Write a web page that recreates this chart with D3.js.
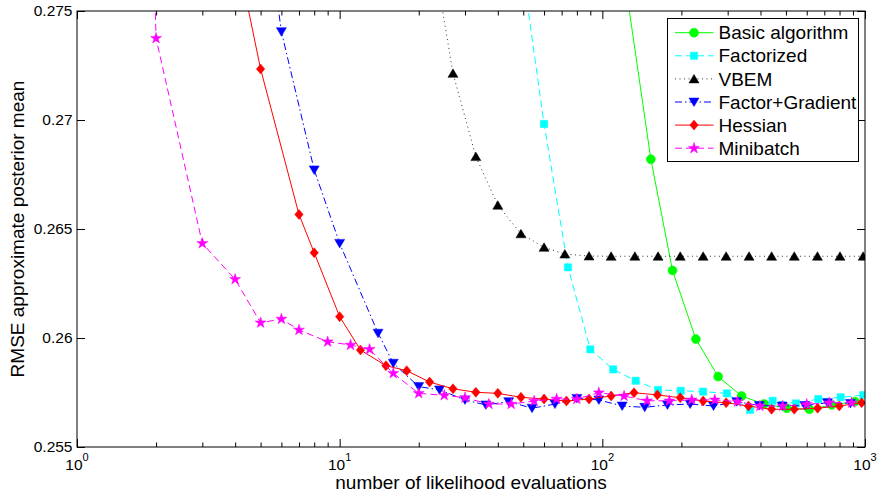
<!DOCTYPE html>
<html>
<head>
<meta charset="utf-8">
<script src="https://cdn.jsdelivr.net/npm/d3@7"></script>
<style>
html,body{margin:0;padding:0;background:#fff;}
svg{display:block;font-family:"Liberation Sans",Arial,Helvetica,sans-serif;}
</style>
</head>
<body>
<svg id="chart" width="878" height="493"></svg>
<script>
// ---------- data ----------
const seriesNames = ["Basic algorithm","Factorized","VBEM","Factor+Gradient","Hessian","Minibatch"];

const basicX = [125,153,185,227,276,339,413,504,614,747,916];
const basicY = [0.2755,0.2682,0.2631,0.25995,0.25823,0.25734,0.25697,0.25678,0.25673,0.25693,0.25708];

const factX = [49,60,74,90,110,134,163,199,242,298,365,445,546,664,808,985];
const factY = [0.2774,0.26982,0.26324,0.25948,0.25856,0.25804,0.25762,0.25758,0.25754,0.25746,0.2567,0.25712,0.2570,0.2572,0.25728,0.25738];

const vbemX = [22,27,33,40,49,60,72,89,108,133,163,198,242,296,362,441,538,659,803,984];
const vbemY = [0.2786,0.27214,0.26832,0.26609,0.26478,0.26416,0.26385,0.26376,0.26375,0.26375,0.26375,0.26375,0.26375,0.26375,0.26375,0.26375,0.26375,0.26375,0.26375,0.26375];

const fgX = [4,6,8,10,14,16,20,24,30,36,44,54,66,80,97,119,145,177,216,265,325,396,484,590,720,880];
const fgY = [0.29,0.27405,0.26771,0.26434,0.26022,0.25884,0.25777,0.25762,0.25716,0.25693,0.25708,0.25678,0.25697,0.25723,0.25716,0.25688,0.25682,0.25693,0.25697,0.25688,0.25708,0.2569,0.25688,0.2569,0.25703,0.257];

const hessX = [4,5,7,8,10,12,15,18,22,27,33,40,49,60,73,89,108,132,162,198,242,296,360,441,538,660,798,971];
const hessY = [0.278,0.27234,0.26567,0.26391,0.26098,0.25945,0.25873,0.2585,0.25798,0.25767,0.25751,0.25746,0.25728,0.2572,0.25711,0.2572,0.25734,0.25749,0.25739,0.25726,0.25711,0.25703,0.25688,0.25673,0.25673,0.25678,0.25688,0.25703];

const miniX = [1,2,3,4,5,6,7,9,11,13,16,20,25,30,37,45,55,67,80,97,121,148,180,219,268,327,398,486,600,731,890];
const miniY = [0.40,0.27375,0.26434,0.26269,0.2607,0.26087,0.26037,0.25983,0.25968,0.25948,0.25838,0.25746,0.25737,0.25726,0.25697,0.25697,0.25711,0.2572,0.2572,0.25749,0.25734,0.25712,0.25712,0.25716,0.25716,0.25708,0.25688,0.25688,0.25696,0.25703,0.25703];

const xMajorTicks = [1,10,100,1000];
const xTickExponents = ["0","1","2","3"];
const yTicks = [0.255,0.26,0.265,0.27,0.275];
const yTickLabels = ["0.255","0.26","0.265","0.27","0.275"];
const xTitle = "number of likelihood evaluations";
const yTitle = "RMSE approximate posterior mean";

// ---------- layout ----------
const L = 77, R = 865, T = 11, B = 447;
const FONT = 15.5, BIG = 19;
const svg = d3.select("#chart");
const x = d3.scaleLog().domain([1,1000]).range([L,R]);
const y = d3.scaleLinear().domain([0.255,0.275]).range([B,T]);

const styles = [
  {color:"#00ff00", dash:null, marker:"circle", w:1},
  {color:"#00ffff", dash:"7,4", marker:"square", w:1},
  {color:"#000000", dash:"1,3.5", marker:"triUp", w:0.8},
  {color:"#0000ff", dash:"7,3,1.5,3", marker:"triDown", w:1},
  {color:"#ff0000", dash:null, marker:"diamond", w:1},
  {color:"#ff00ff", dash:"7,4", marker:"star", w:1}
];
const data = [[basicX,basicY],[factX,factY],[vbemX,vbemY],[fgX,fgY],[hessX,hessY],[miniX,miniY]];

function markerPath(type){
  switch(type){
    case "circle": return d3.symbol(d3.symbolCircle, Math.PI*4.5*4.5)();
    case "square": return "M-3.6,-3.6H3.6V3.6H-3.6Z";
    case "triUp": return "M0,-4.5L5,4L-5,4Z";
    case "triDown": return "M0,4.5L5,-4L-5,-4Z";
    case "diamond": return "M0,-5L4.2,0L0,5L-4.2,0Z";
    case "star": return d3.symbol(d3.symbolStar, 5.8*5.8/0.8908130915292852)();
  }
}

// clip
svg.append("defs").append("clipPath").attr("id","plotclip")
  .append("rect").attr("x",L).attr("y",T).attr("width",R-L).attr("height",B-T);

svg.append("rect").attr("x",L).attr("y",T).attr("width",R-L).attr("height",B-T).attr("fill","#fff");

// ---------- axes ----------
const minorTicks = [];
for (let d=1; d<1000; d*=10) for (let k=2;k<=9;k++) minorTicks.push(d*k);

const axisG = svg.append("g");
const xb = axisG.append("g").attr("transform",`translate(0,${B})`)
  .call(d3.axisBottom(x).tickValues(xMajorTicks).tickSizeInner(-8).tickSizeOuter(0).tickFormat(""));
xb.select(".domain").remove();
const xbm = axisG.append("g").attr("transform",`translate(0,${B})`)
  .call(d3.axisBottom(x).tickValues(minorTicks).tickSizeInner(-4.5).tickSizeOuter(0).tickFormat(""));
xbm.select(".domain").remove();
const xt = axisG.append("g").attr("transform",`translate(0,${T})`)
  .call(d3.axisTop(x).tickValues(xMajorTicks).tickSizeInner(-8).tickSizeOuter(0).tickFormat(""));
xt.select(".domain").remove();
const xtm = axisG.append("g").attr("transform",`translate(0,${T})`)
  .call(d3.axisTop(x).tickValues(minorTicks).tickSizeInner(-4.5).tickSizeOuter(0).tickFormat(""));
xtm.select(".domain").remove();
const yl = axisG.append("g").attr("transform",`translate(${L},0)`)
  .call(d3.axisLeft(y).tickValues(yTicks).tickSizeInner(-8).tickSizeOuter(0).tickPadding(4.5)
    .tickFormat((d,i)=>yTickLabels[i]));
yl.select(".domain").remove();
const yr = axisG.append("g").attr("transform",`translate(${R},0)`)
  .call(d3.axisRight(y).tickValues(yTicks).tickSizeInner(-8).tickSizeOuter(0).tickFormat(""));
yr.select(".domain").remove();

axisG.selectAll(".tick line").attr("stroke","#000").attr("stroke-width",1);
yl.selectAll("text").attr("font-size",FONT).attr("fill","#000")
  .attr("font-family","'Liberation Sans',Arial,sans-serif");

// x tick labels with superscripts
const xl = svg.append("g");
xMajorTicks.forEach((v,i)=>{
  const t = xl.append("text").attr("x",x(v)).attr("y",470).attr("text-anchor","middle")
    .attr("font-size",FONT).attr("fill","#000");
  t.append("tspan").text("10");
  t.append("tspan").attr("font-size",11).attr("dy",-9).text(xTickExponents[i]);
});

// ---------- series ----------
const plotG = svg.append("g");
const line = d3.line().x(d=>x(d[0])).y(d=>y(d[1]));
data.forEach((s,i)=>{
  const pts = s[0].map((v,j)=>[v,s[1][j]]);
  const st = styles[i];
  plotG.append("path").attr("clip-path","url(#plotclip)")
    .attr("d",line(pts)).attr("fill","none").attr("stroke",st.color)
    .attr("stroke-width",st.w).attr("stroke-dasharray",st.dash);
  plotG.append("g").attr("clip-path","url(#plotclip)").selectAll("path")
    .data(pts.filter(p=>p[1]<=0.2752)).join("path")
    .attr("transform",p=>`translate(${x(p[0])},${y(p[1])})`)
    .attr("d",markerPath(st.marker)).attr("fill",st.color).attr("stroke",st.color).attr("stroke-width",0.5);
});

// frame
svg.append("rect").attr("x",L).attr("y",T).attr("width",R-L).attr("height",B-T)
  .attr("fill","none").attr("stroke","#000").attr("stroke-width",1);

// titles
svg.append("text").attr("x",(L+R)/2).attr("y",489).attr("text-anchor","middle")
  .attr("font-size",BIG).attr("fill","#000").text(xTitle);
svg.append("text").attr("transform",`translate(24,${(T+B)/2}) rotate(-90)`).attr("text-anchor","middle")
  .attr("font-size",BIG).attr("fill","#000").text(yTitle);

// ---------- legend ----------
const lg = svg.append("g");
const lx0 = 667.5, ly0 = 18.5, lw = 191, lh = 143;
lg.append("rect").attr("x",lx0).attr("y",ly0).attr("width",lw).attr("height",lh)
  .attr("fill","#fff").attr("stroke","#000").attr("stroke-width",1);
seriesNames.forEach((name,i)=>{
  const cy = 32.7 + i*23.1;
  const st = styles[i];
  lg.append("line").attr("x1",675).attr("x2",713.5).attr("y1",cy).attr("y2",cy)
    .attr("stroke",st.color).attr("stroke-width",st.w).attr("stroke-dasharray",st.dash);
  lg.append("path").attr("transform",`translate(694,${cy})`).attr("d",markerPath(st.marker))
    .attr("fill",st.color).attr("stroke",st.color).attr("stroke-width",0.5);
  lg.append("text").attr("x",718.5).attr("y",cy+6.6).attr("font-size",BIG).attr("fill","#000").text(name);
});
</script>
</body>
</html>
